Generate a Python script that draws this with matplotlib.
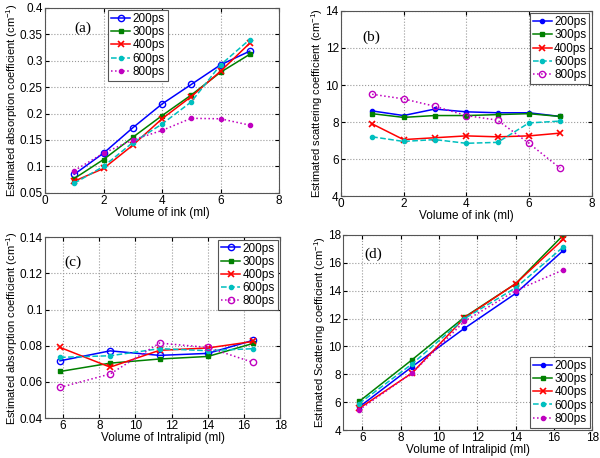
import matplotlib
matplotlib.use("Agg")
import matplotlib.pyplot as plt

plt.rcParams['font.family'] = ['Liberation Sans', 'DejaVu Sans']
plt.rcParams['mathtext.default'] = 'regular'

series = ['200ps', '300ps', '400ps', '600ps', '800ps']

ink = [1, 2, 3, 4, 5, 6, 7]
intralipid = [5.83, 8.6, 11.33, 14.0, 16.5]

a_abs = {
    '200ps': [0.085, 0.125, 0.173, 0.218, 0.255, 0.292, 0.318],
    '300ps': [0.077, 0.113, 0.155, 0.196, 0.235, 0.278, 0.312],
    '400ps': [0.072, 0.096, 0.140, 0.190, 0.232, 0.280, 0.333],
    '600ps': [0.068, 0.100, 0.145, 0.180, 0.222, 0.292, 0.340],
    '800ps': [0.092, 0.125, 0.150, 0.168, 0.191, 0.190, 0.178],
}
b_sca = {
    '200ps': [8.6, 8.35, 8.7, 8.55, 8.5, 8.5, 8.3],
    '300ps': [8.45, 8.25, 8.35, 8.35, 8.4, 8.45, 8.3],
    '400ps': [7.9, 7.05, 7.15, 7.25, 7.2, 7.25, 7.4],
    '600ps': [7.2, 6.95, 7.05, 6.85, 6.9, 7.95, 8.05],
    '800ps': [9.5, 9.25, 8.85, 8.35, 8.1, 6.85, 5.5],
}
c_abs = {
    '200ps': [0.0717, 0.0772, 0.0747, 0.0758, 0.0830],
    '300ps': [0.0658, 0.0704, 0.0727, 0.0741, 0.0813],
    '400ps': [0.0791, 0.0682, 0.0775, 0.0788, 0.0824],
    '600ps': [0.0736, 0.0745, 0.0784, 0.0773, 0.0784],
    '800ps': [0.0570, 0.0644, 0.0815, 0.0791, 0.0708],
}
d_sca = {
    '200ps': [5.65, 8.55, 11.3, 13.8, 16.9],
    '300ps': [6.05, 9.05, 12.1, 14.5, 18.0],
    '400ps': [5.55, 8.1, 12.05, 14.5, 17.7],
    '600ps': [5.9, 8.75, 12.0, 14.2, 17.15],
    '800ps': [5.45, 8.1, 11.8, 14.0, 15.5],
}

colors = {'200ps': '#0000ff', '300ps': '#008000', '400ps': '#ff0000',
          '600ps': '#00bfbf', '800ps': '#bf00bf'}
ls = {'200ps': '-', '300ps': '-', '400ps': '-', '600ps': '--', '800ps': ':'}

def marker_style(name, open_circle_for):
    if name == '300ps':
        return dict(marker='s', ms=3.5, mfc=colors[name])
    if name == '400ps':
        return dict(marker='x', ms=5, mew=1.2)
    if name in open_circle_for:
        return dict(marker='o', ms=4.5, mfc='none')
    return dict(marker='o', ms=3, mfc=colors[name])

fig = plt.figure(figsize=(6.0, 4.58), dpi=100)

panels = [
    ([0.075, 0.579, 0.390, 0.404], ink, a_abs, (0, 8), (0.05, 0.4),
     [0, 2, 4, 6, 8], [0.05, 0.1, 0.15, 0.2, 0.25, 0.3, 0.35, 0.4],
     ['0.05', '0.1', '0.15', '0.2', '0.25', '0.3', '0.35', '0.4'],
     'Volume of ink (ml)', 'Estimated absorption coefficient (cm$^{-1}$)',
     '(a)', (0.16, 0.89), ('upper left', (0.26, 1.0)), {'200ps'}),
    ([0.568, 0.572, 0.418, 0.404], ink, b_sca, (0, 8), (4, 14),
     [0, 2, 4, 6, 8], [4, 6, 8, 10, 12, 14], None,
     'Volume of ink (ml)', 'Estimated scattering coefficient (cm$^{-1}$)',
     '(b)', (0.12, 0.86), ('upper right', (1.0, 1.0)), {'800ps'}),
    ([0.075, 0.087, 0.392, 0.395], intralipid, c_abs, (5, 18), (0.04, 0.14),
     [6, 8, 10, 12, 14, 16, 18], [0.04, 0.06, 0.08, 0.1, 0.12, 0.14],
     ['0.04', '0.06', '0.08', '0.1', '0.12', '0.14'],
     'Volume of Intralipid (ml)', 'Estimated absorption coefficient (cm$^{-1}$)',
     '(c)', (0.12, 0.86), ('upper right', (1.0, 1.0)), {'200ps', '800ps'}),
    ([0.572, 0.061, 0.415, 0.426], intralipid, d_sca, (5, 18), (4, 18),
     [6, 8, 10, 12, 14, 16, 18], [4, 6, 8, 10, 12, 14, 16, 18], None,
     'Volume of Intralipid (ml)', 'Estimated Scattering coefficient (cm$^{-1}$)',
     '(d)', (0.12, 0.9), ('lower right', (1.0, 0.0)), set()),
]

for (rect, xs, data, xl, yl, xt, yt, ytl, xlab, ylab, tag, tagpos, leg, oc) in panels:
    ax = fig.add_axes(rect)
    for name in series:
        ax.plot(xs, data[name], color=colors[name], ls=ls[name], lw=1.1,
                label=name, **marker_style(name, oc))
    ax.set_xlim(*xl)
    ax.set_ylim(*yl)
    ax.set_xticks(xt)
    ax.set_yticks(yt)
    if ytl is not None:
        ax.set_yticklabels(ytl)
    ax.tick_params(direction='in', labelsize=8.5, length=3, pad=1.5,
                   top=True, right=True)
    ax.grid(True, ls=':', color='#999999', lw=0.8)
    ax.set_xlabel(xlab, fontsize=8.5, labelpad=0)
    ax.set_ylabel(ylab, fontsize=8, labelpad=0)
    for s in ax.spines.values():
        s.set_color('#555555')
        s.set_linewidth(0.8)
    ax.text(tagpos[0], tagpos[1], tag, transform=ax.transAxes, fontsize=11,
            family='Liberation Serif', ha='center', va='center')
    lg = ax.legend(loc=leg[0], bbox_to_anchor=leg[1], fontsize=8.5, handlelength=1.6,
                   handletextpad=0.2, borderpad=0.25, labelspacing=0.1,
                   fancybox=False, framealpha=1, borderaxespad=0.2)
    lg.get_frame().set_edgecolor('#555555')
    lg.get_frame().set_linewidth(0.8)

fig.savefig('out.png', dpi=100)
